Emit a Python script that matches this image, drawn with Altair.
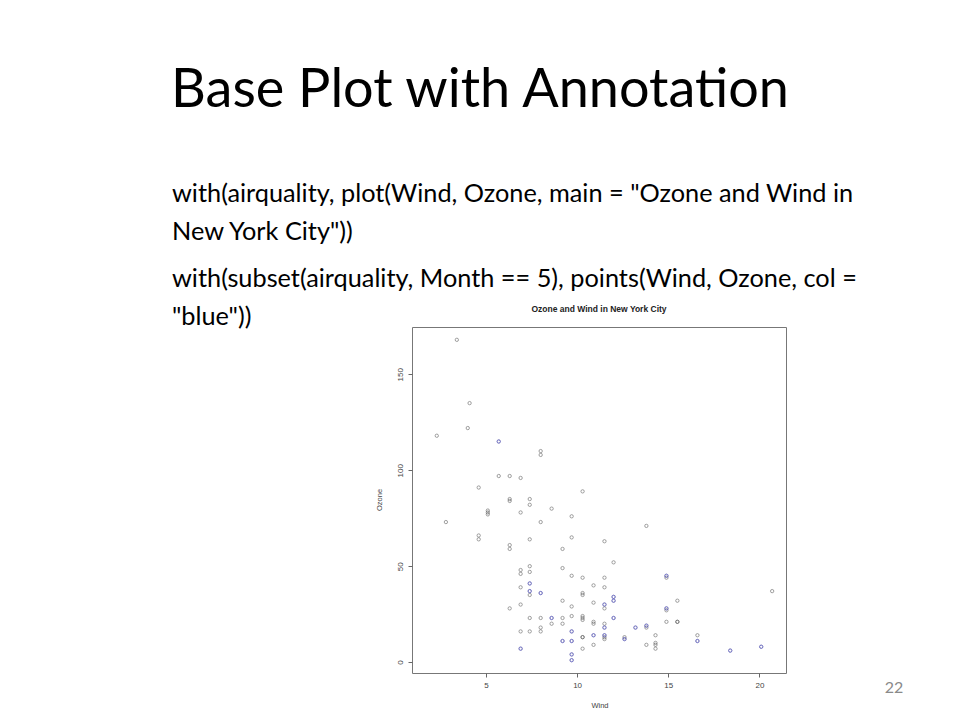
import altair as alt
import pandas as pd

wind_may = [7.4, 8.0, 12.6, 11.5, 14.9, 8.6, 13.8, 20.1, 6.9, 9.7, 9.2, 10.9, 13.2,
            11.5, 12.0, 18.4, 11.5, 9.7, 9.7, 16.6, 9.7, 12.0, 12.0, 14.9, 5.7, 7.4]
ozone_may = [41, 36, 12, 18, 28, 23, 19, 8, 7, 16, 11, 14, 18,
             14, 34, 6, 30, 11, 1, 11, 4, 32, 23, 45, 115, 37]
wind_jun = [9.7, 13.8, 11.5, 8.0, 14.9, 20.7, 9.2, 11.5, 10.3]
ozone_jun = [29, 71, 39, 23, 21, 37, 20, 12, 13]
wind_jul = [4.1, 9.2, 9.2, 4.6, 10.9, 5.1, 6.3, 5.7, 7.4, 14.3, 14.9, 14.3, 6.9,
            10.3, 6.3, 5.1, 11.5, 6.9, 8.6, 8.0, 8.6, 12.0, 7.4, 7.4, 7.4, 9.2]
ozone_jul = [135, 49, 32, 64, 40, 77, 97, 97, 85, 10, 27, 7, 48,
             35, 61, 79, 63, 16, 80, 108, 20, 52, 82, 50, 64, 59]
wind_aug = [6.9, 13.8, 7.4, 6.9, 7.4, 4.6, 4.0, 10.3, 8.0, 11.5, 11.5, 9.7, 10.3,
            6.3, 7.4, 10.9, 10.3, 15.5, 14.3, 9.7, 3.4, 8.0, 9.7, 2.3, 6.3, 6.3]
ozone_aug = [39, 9, 16, 78, 35, 66, 122, 89, 110, 44, 28, 65, 22,
             59, 23, 31, 44, 21, 9, 45, 168, 73, 76, 118, 84, 85]
wind_sep = [6.9, 5.1, 2.8, 4.6, 7.4, 15.5, 10.9, 10.3, 10.9, 9.7, 14.9, 15.5, 6.3,
            10.9, 11.5, 6.9, 13.8, 10.3, 10.3, 8.0, 12.6, 9.2, 10.3, 10.3, 16.6,
            6.9, 14.3, 8.0, 11.5]
ozone_sep = [96, 78, 73, 91, 47, 32, 20, 23, 21, 24, 44, 21, 28,
             9, 13, 46, 18, 13, 24, 16, 13, 23, 36, 7, 14,
             30, 14, 18, 20]

x_ticks = [5, 10, 15, 20]
y_ticks = [0, 50, 100, 150]

slide_title = "Base Plot with Annotation"
body_lines = [
    'with(airquality, plot(Wind, Ozone, main = "Ozone and Wind in',
    'New York City"))',
    'with(subset(airquality, Month == 5), points(Wind, Ozone, col =',
    '"blue"))',
]
plot_title = "Ozone and Wind in New York City"
page_number = "22"

rows = []
for m, ws, oz in [(5, wind_may, ozone_may), (6, wind_jun, ozone_jun),
                  (7, wind_jul, ozone_jul), (8, wind_aug, ozone_aug),
                  (9, wind_sep, ozone_sep)]:
    for w, o in zip(ws, oz):
        rows.append({"Wind": w, "Ozone": o, "Month": m})
df = pd.DataFrame(rows)

W, H = 374, 346
xs = alt.Scale(domain=[0.94, 21.46], nice=False, zero=False)
ys = alt.Scale(domain=[-5.68, 174.68], nice=False, zero=False)

x_axis = alt.Axis(values=x_ticks, title=None, grid=False, domain=False,
                  tickSize=4, tickColor="#666", labelColor="#444",
                  labelFontSize=8, labelFont="Liberation Sans", labelPadding=4)
y_axis = alt.Axis(values=y_ticks, title=None, grid=False, domain=False,
                  tickSize=4, tickColor="#666", labelColor="#444",
                  labelFontSize=8, labelFont="Liberation Sans", labelPadding=4,
                  labelAngle=270, labelAlign="center", labelBaseline="bottom")

base = alt.Chart(df)
all_pts = base.mark_point(shape="circle", filled=False, size=11, strokeWidth=0.8,
                          color="#555555").encode(
    x=alt.X("Wind:Q", scale=xs, axis=x_axis),
    y=alt.Y("Ozone:Q", scale=ys, axis=y_axis),
)
may_pts = base.transform_filter(alt.datum.Month == 5).mark_point(
    shape="circle", filled=False, size=11, strokeWidth=0.8, color="#5a5af0").encode(
    x=alt.X("Wind:Q", scale=xs),
    y=alt.Y("Ozone:Q", scale=ys),
)

# plot origin is at page (412, 327)
OX, OY = 412, 327

def txt(text, px, py, **kw):
    return alt.Chart(pd.DataFrame({"t": [text]})).mark_text(**kw).encode(
        text="t:N", x=alt.value(px - OX), y=alt.value(py - OY))

layers = [all_pts, may_pts]
layers.append(txt(slide_title, 480, 107, font="Lato", fontSize=54,
                  align="center", baseline="alphabetic", color="#000"))
for line, by in zip(body_lines, [202, 240, 287, 325]):
    layers.append(txt(line, 172, by, font="Lato", fontSize=25.3, align="left",
                      baseline="alphabetic", color="#000"))
layers.append(txt(plot_title, 599, 309, font="Liberation Sans", fontSize=8.5,
                  fontWeight="bold", align="center", baseline="middle", color="#222"))
layers.append(txt("Ozone", 380, 500, font="Liberation Sans", fontSize=7.5,
                  angle=270, align="center", baseline="middle", color="#444"))
layers.append(txt("Wind", 600, 706, font="Liberation Sans", fontSize=7.5,
                  align="center", baseline="middle", color="#444"))
layers.append(txt(page_number, 894, 688, font="Lato", fontSize=16,
                  align="center", baseline="middle", color="#8a8a8a"))

chart = alt.layer(*layers).properties(
    width=W, height=H,
    autosize=alt.AutoSizeParams(type="none"),
    padding={"left": 404, "top": 319, "right": 166, "bottom": 39},
    background="white",
).configure_view(stroke="#777", strokeWidth=1)

chart.save("out.html", embed_options={"renderer": "svg", "actions": False})
